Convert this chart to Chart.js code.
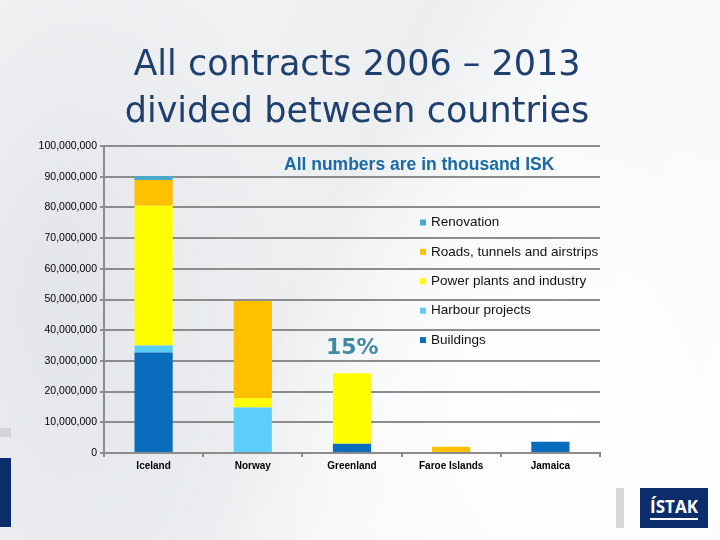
<!DOCTYPE html>
<html>
<head>
<meta charset="utf-8">
<script src="https://cdn.jsdelivr.net/npm/chart.js@4.4.1/dist/chart.umd.min.js"></script>
<style>
  html, body { margin: 0; padding: 0; }
  body {
    width: 720px; height: 540px; position: relative; overflow: hidden;
    background:
      radial-gradient(ellipse 420px 520px at 560px 420px, rgba(255,255,255,0.95), rgba(255,255,255,0) 70%),
      radial-gradient(ellipse 300px 600px at 60px 300px, rgba(225,228,232,0.9), rgba(225,228,232,0) 75%),
      linear-gradient(115deg, #f4f5f6 0%, #eceef0 45%, #f7f8f9 60%, #fbfbfc 100%);
    font-family: "Liberation Sans", Arial, sans-serif;
  }
  #wrap { position: absolute; left: 0; top: 0; width: 720px; height: 540px; }
  .title {
    position: absolute; left: 0; width: 714px; text-align: center;
    font-family: "DejaVu Sans", Verdana, sans-serif; font-size: 35px;
    color: #1f3f6f; line-height: 47px; top: 40px;
  }
  .sub {
    position: absolute; left: 284px; top: 154px; font-weight: bold;
    font-size: 17.5px; color: #1b6aa5; white-space: nowrap;
  }
  .pct {
    position: absolute; left: 326px; top: 334px; font-weight: bold;
    font-family: "DejaVu Sans", Verdana, sans-serif; font-size: 22px; color: #3f8aa2;
  }
  .deco { position: absolute; }
  .logo {
    position: absolute; left: 640px; top: 488px; width: 68px; height: 40px;
    background: #0c2d6b; color: #fff; font-weight: bold; font-size: 17px;
    text-align: center; line-height: 38px; font-family: "Open Sans", sans-serif;
  }
  .logo span { border-bottom: 2px solid #fff; padding-bottom: 0; }
</style>
</head>
<body>
<div class="deco" style="left:0;top:428px;width:11px;height:9px;background:#d3d4d6"></div>
<div class="deco" style="left:0;top:458px;width:11px;height:69px;background:#0c2d6b"></div>
<div class="deco" style="left:616px;top:488px;width:8px;height:40px;background:#d6d7d9"></div>
<div class="logo"><span>ÍSTAK</span></div>
<div id="wrap"><canvas id="chart" width="720" height="540"></canvas></div>
<div class="title">All contracts 2006 – 2013<br>divided between countries</div>
<div class="sub">All numbers are in thousand ISK</div>
<div class="pct">15%</div>
<script>
const countries = ['Iceland', 'Norway', 'Greenland', 'Faroe Islands', 'Jamaica'];
const buildings = [32700000, 0, 3000000, 0, 3700000];
const harbour = [2300000, 14800000, 0, 0, 0];
const power = [45500000, 3000000, 23000000, 0, 0];
const roads = [8400000, 31700000, 0, 2000000, 0];
const renovation = [1300000, 0, 0, 0, 0];
const yTicks = [0, 10000000, 20000000, 30000000, 40000000, 50000000, 60000000, 70000000, 80000000, 90000000, 100000000];

const gridGray = '#8c8c8c';

// legend drawn on the canvas, top series first
const sideLegend = {
  id: 'sideLegend',
  afterDraw(chart) {
    const ctx = chart.ctx;
    const sets = chart.data.datasets.slice().reverse();
    ctx.save();
    ctx.font = '13.5px "Liberation Sans", Arial, sans-serif';
    ctx.textBaseline = 'middle';
    sets.forEach((ds, i) => {
      const y = 222.5 + i * 29.4;
      ctx.fillStyle = ds.backgroundColor;
      ctx.fillRect(420, y - 3, 6, 6);
      ctx.fillStyle = '#111';
      ctx.fillText(ds.label, 431, y);
    });
    ctx.restore();
  }
};

new Chart(document.getElementById('chart'), {
  type: 'bar',
  data: {
    labels: countries,
    datasets: [
      { label: 'Buildings', data: buildings, backgroundColor: '#0a6cbd' },
      { label: 'Harbour projects', data: harbour, backgroundColor: '#5bcffa' },
      { label: 'Power plants and industry', data: power, backgroundColor: '#ffff00' },
      { label: 'Roads, tunnels and airstrips', data: roads, backgroundColor: '#ffc000' },
      { label: 'Renovation', data: renovation, backgroundColor: '#4ba9c9' }
    ]
  },
  options: {
    responsive: false,
    animation: false,
    layout: { padding: { left: 0, right: 120, top: 146, bottom: 65 } },
    datasets: { bar: { categoryPercentage: 1, barPercentage: 0.385, borderWidth: 0 } },
    scales: {
      x: {
        stacked: true,
        afterFit(scale) { scale.height = 22; },
        grid: { offset: true, drawOnChartArea: false, drawTicks: true, tickLength: 4, color: gridGray, lineWidth: 2 },
        border: { color: gridGray, width: 2 },
        ticks: { color: '#000', padding: 3, font: { family: '"Liberation Sans", Arial, sans-serif', size: 10, weight: 'bold' } }
      },
      y: {
        stacked: true,
        min: 0,
        max: 100000000,
        afterFit(scale) { scale.width = 104; },
        afterBuildTicks(scale) { scale.ticks = yTicks.map(v => ({ value: v })); },
        grid: { color: gridGray, lineWidth: 2, tickLength: 4 },
        border: { color: gridGray, width: 2 },
        ticks: {
          color: '#000', padding: 3,
          font: { family: '"Liberation Sans", Arial, sans-serif', size: 10.5 },
          callback: v => v.toLocaleString('en-US')
        }
      }
    },
    plugins: { legend: { display: false }, tooltip: { enabled: false } }
  },
  plugins: [sideLegend]
});
</script>
</body>
</html>
